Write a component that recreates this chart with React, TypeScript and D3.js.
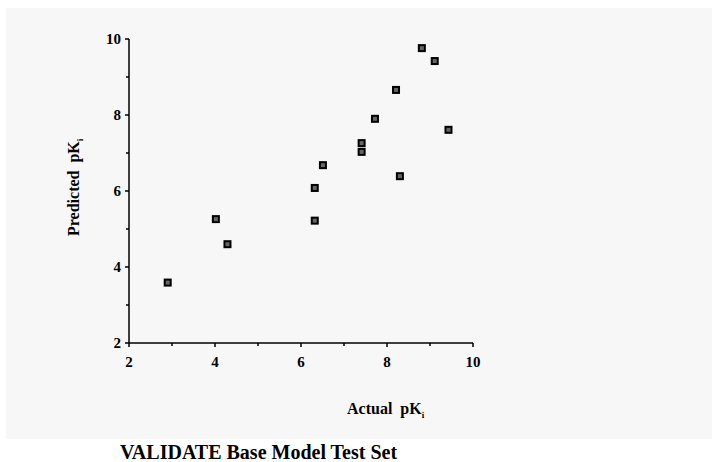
import React from "react";
import * as d3 from "d3";

const actual = [2.9, 4.02, 4.29, 6.32, 6.32, 6.51, 7.41, 7.41, 7.72, 8.21, 8.3, 8.81, 9.11, 9.43];
const predicted = [3.59, 5.26, 4.6, 5.22, 6.08, 6.68, 7.03, 7.26, 7.9, 8.66, 6.39, 9.76, 9.42, 7.61];
const xTicks = [2, 4, 6, 8, 10];
const yTicks = [2, 4, 6, 8, 10];
const minorTicks = [3, 5, 7, 9];

export default function App() {
  const W = 712, H = 462;
  const x = d3.scaleLinear().domain([2, 10]).range([129, 473]);
  const y = d3.scaleLinear().domain([2, 10]).range([343, 39]);
  const font = "'Liberation Serif', 'Times New Roman', serif";
  return (
    <svg width={W} height={H} style={{ position: "absolute", left: 0, top: 0 }}>
      <rect x={0} y={0} width={W} height={H} fill="#ffffff" />
      <rect x={6} y={8} width={W - 6} height={431} fill="#f7f7f7" />
      <g stroke="#000" strokeWidth={1.5}>
        <line x1={x(2)} x2={x(10)} y1={y(2)} y2={y(2)} />
        <line x1={x(2)} x2={x(2)} y1={y(2)} y2={y(10)} />
        {xTicks.map((t) => (
          <line key={"xt" + t} x1={x(t)} x2={x(t)} y1={y(2)} y2={y(2) + 4} />
        ))}
        {minorTicks.map((t) => (
          <line key={"xm" + t} x1={x(t)} x2={x(t)} y1={y(2)} y2={y(2) + 3} />
        ))}
        {yTicks.map((t) => (
          <line key={"yt" + t} x1={x(2) - 4} x2={x(2)} y1={y(t)} y2={y(t)} />
        ))}
        {minorTicks.map((t) => (
          <line key={"ym" + t} x1={x(2) - 3} x2={x(2)} y1={y(t)} y2={y(t)} />
        ))}
      </g>
      <g fontFamily={font} fontWeight="bold" fontSize={15} fill="#000">
        {xTicks.map((t) => (
          <text key={"xl" + t} x={x(t)} y={367} textAnchor="middle">{t}</text>
        ))}
        {yTicks.map((t) => (
          <text key={"yl" + t} x={121} y={y(t) + 5} textAnchor="end">{t}</text>
        ))}
        <text x={347} y={414} fontSize={16}>
          Actual<tspan dx={8}>pK</tspan><tspan fontSize={9} dy={4}>i</tspan>
        </text>
        <text transform="translate(79,236) rotate(-90)" textAnchor="start" fontSize={16}>
          Predicted<tspan dx={8}>pK</tspan><tspan fontSize={9} dy={4}>i</tspan>
        </text>
      </g>
      <text x={120} y={459} fontFamily={font} fontWeight="bold" fontSize={20} fill="#000">
        VALIDATE Base Model Test Set
      </text>
      <g>
        {actual.map((a, i) => (
          <rect key={"p" + i} x={x(a) - 3} y={y(predicted[i]) - 3} width={6} height={6}
            fill="#666" stroke="#000" strokeWidth={2} />
        ))}
      </g>
    </svg>
  );
}
